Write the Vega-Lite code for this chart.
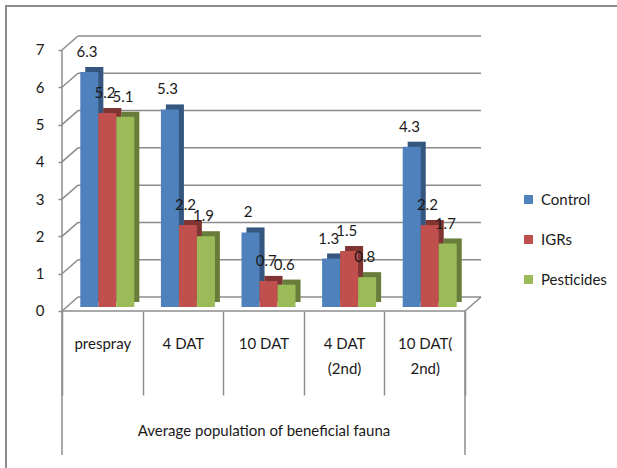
{
  "$schema": "https://vega.github.io/schema/vega-lite/v6.json",
  "width": 614,
  "height": 466,
  "autosize": {"type": "none"},
  "padding": {"left": 6, "top": 6, "right": 0, "bottom": 0},
  "background": "white",
  "config": {"view": {"stroke": "#8c8c8c", "strokeWidth": 2}, "font": "Lato"},
  "resolve": {"scale": {"xOffset": "independent"}},
  "datasets": {
    "bars": [
      {"cat": "prespray", "series": "Control", "val": 6.3},
      {"cat": "prespray", "series": "IGRs", "val": 5.2},
      {"cat": "prespray", "series": "Pesticides", "val": 5.1},
      {"cat": "4 DAT", "series": "Control", "val": 5.3},
      {"cat": "4 DAT", "series": "IGRs", "val": 2.2},
      {"cat": "4 DAT", "series": "Pesticides", "val": 1.9},
      {"cat": "10 DAT", "series": "Control", "val": 2},
      {"cat": "10 DAT", "series": "IGRs", "val": 0.7},
      {"cat": "10 DAT", "series": "Pesticides", "val": 0.6},
      {"cat": "4 DAT (2nd)", "series": "Control", "val": 1.3},
      {"cat": "4 DAT (2nd)", "series": "IGRs", "val": 1.5},
      {"cat": "4 DAT (2nd)", "series": "Pesticides", "val": 0.8},
      {"cat": "10 DAT(2nd)", "series": "Control", "val": 4.3},
      {"cat": "10 DAT(2nd)", "series": "IGRs", "val": 2.2},
      {"cat": "10 DAT(2nd)", "series": "Pesticides", "val": 1.7}
    ],
    "grid": [{"g": 0}, {"g": 1}, {"g": 2}, {"g": 3}, {"g": 4}, {"g": 5}, {"g": 6}, {"g": 7}],
    "one": [{"k": 1}]
  },
  "layer": [
    {
      "data": {"name": "grid"},
      "mark": {"type": "rule", "stroke": "#8c8c8c", "strokeWidth": 1.5, "xOffset": 16, "x2Offset": 16, "yOffset": -14, "y2Offset": -14},
      "encoding": {
        "x": {"datum": "prespray", "type": "nominal", "bandPosition": 0, "scale": {"domain": ["prespray", "4 DAT", "10 DAT", "4 DAT (2nd)", "10 DAT(2nd)"], "paddingInner": 0, "paddingOuter": 0, "range": [56, 459]}},
        "x2": {"datum": "10 DAT(2nd)", "bandPosition": 1},
        "y": {"field": "g", "type": "quantitative", "scale": {"domain": [-4.318, 8.18], "nice": false, "zero": false}}
      }
    },
    {
      "data": {"name": "grid"},
      "mark": {"type": "rule", "stroke": "#8c8c8c", "strokeWidth": 1.5, "x2Offset": 16, "y2Offset": -14},
      "encoding": {
        "x": {"datum": "prespray", "type": "nominal", "bandPosition": 0},
        "x2": {"datum": "prespray", "bandPosition": 0},
        "y": {"field": "g", "type": "quantitative"},
        "y2": {"field": "g"}
      }
    },
    {
      "data": {"name": "one"},
      "mark": {"type": "rule", "stroke": "#8c8c8c", "strokeWidth": 1.5, "x2Offset": 16, "y2Offset": -14},
      "encoding": {
        "x": {"datum": "10 DAT(2nd)", "type": "nominal", "bandPosition": 1},
        "x2": {"datum": "10 DAT(2nd)", "bandPosition": 1},
        "y": {"datum": 0, "type": "quantitative"},
        "y2": {"datum": 0}
      }
    },
    {
      "data": {"name": "one"},
      "mark": {"type": "rule", "stroke": "#8c8c8c", "strokeWidth": 1.5},
      "encoding": {
        "x": {"datum": "prespray", "type": "nominal", "bandPosition": 0},
        "x2": {"datum": "10 DAT(2nd)", "bandPosition": 1},
        "y": {"datum": 0, "type": "quantitative"}
      }
    },
    {
      "data": {"name": "one"},
      "mark": {"type": "rule", "stroke": "#8c8c8c", "strokeWidth": 1.5},
      "encoding": {
        "x": {"datum": "prespray", "type": "nominal", "bandPosition": 0},
        "y": {"datum": 7, "type": "quantitative"},
        "y2": {"datum": -3.862}
      }
    },
    {
      "data": {"name": "one"},
      "mark": {"type": "rule", "stroke": "#8c8c8c", "strokeWidth": 1.5},
      "encoding": {
        "x": {"datum": "10 DAT(2nd)", "type": "nominal", "bandPosition": 1},
        "y": {"datum": 0, "type": "quantitative"},
        "y2": {"datum": -3.862}
      }
    },
    {
      "data": {"name": "bars"},
      "mark": {"type": "bar", "yOffset": -9, "y2Offset": -9},
      "encoding": {
        "x": {"field": "cat", "type": "nominal"},
        "xOffset": {"field": "series", "type": "nominal", "scale": {"domain": ["Control", "IGRs", "Pesticides"], "paddingInner": 0, "paddingOuter": 0.739, "align": 0.876}},
        "y": {"field": "val", "type": "quantitative"},
        "y2": {"datum": 0},
        "color": {"field": "series", "type": "nominal"}
      }
    },
    {
      "data": {"name": "bars"},
      "mark": {"type": "bar", "fill": "black", "opacity": 0.33, "yOffset": -9, "y2Offset": -9},
      "encoding": {
        "x": {"field": "cat", "type": "nominal"},
        "xOffset": {"field": "series", "type": "nominal", "scale": {"domain": ["Control", "IGRs", "Pesticides"], "paddingInner": 0, "paddingOuter": 0.739, "align": 0.876}},
        "y": {"field": "val", "type": "quantitative"},
        "y2": {"datum": 0}
      }
    },
    {
      "data": {"name": "bars"},
      "mark": {"type": "bar", "yOffset": -4, "y2Offset": -4},
      "encoding": {
        "x": {
          "field": "cat", "type": "nominal", "title": "Average population of beneficial fauna",
          "axis": {
            "orient": "bottom", "offset": -161, "domain": false, "ticks": true, "tickBand": "extent",
            "tickSize": 84, "tickColor": "#8c8c8c", "tickWidth": 1.5, "grid": false,
            "labelPadding": -59, "labelBaseline": "top", "labelAlign": "center", "labelAngle": 0, "labelFont": "Lato", "labelFontSize": 15,
            "labelColor": "#1a1a1a", "labelLineHeight": 25,
            "labelExpr": "datum.value == '4 DAT (2nd)' ? ['4 DAT', '(2nd)'] : datum.value == '10 DAT(2nd)' ? ['10 DAT(', '2nd)'] : datum.label",
            "titleFont": "Lato", "titleFontSize": 15, "titleFontWeight": "normal", "titleColor": "#1a1a1a",
            "titleY": 124, "titleBaseline": "alphabetic"
          }
        },
        "xOffset": {"field": "series", "type": "nominal", "scale": {"domain": ["Control", "IGRs", "Pesticides"], "paddingInner": 0, "paddingOuter": 0.739, "align": 0.688}},
        "y": {
          "field": "val", "type": "quantitative", "title": null,
          "axis": {"offset": -56, "values": [0, 1, 2, 3, 4, 5, 6, 7], "domain": false, "ticks": true, "tickSize": 4, "tickColor": "#8c8c8c", "tickWidth": 1.5, "grid": false, "title": null,
            "labelPadding": 14, "labelFont": "Lato", "labelFontSize": 15, "labelColor": "#1a1a1a"}
        },
        "y2": {"datum": 0},
        "color": {
          "field": "series", "type": "nominal",
          "scale": {"domain": ["Control", "IGRs", "Pesticides"], "range": ["#4F81BD", "#C0504D", "#9BBB59"]},
          "legend": {"title": null, "orient": "none", "legendX": 515, "legendY": 186, "symbolType": "square", "symbolSize": 81,
            "symbolStrokeWidth": 0, "labelFont": "Lato", "labelFontSize": 15, "labelColor": "#1a1a1a", "labelOffset": 5, "rowPadding": 24, "padding": 0}
        }
      }
    },
    {
      "data": {"name": "bars"},
      "mark": {"type": "text", "yOffset": -19, "baseline": "alphabetic", "align": "center", "font": "Lato", "fontSize": 15, "color": "#1a1a1a"},
      "encoding": {
        "x": {"field": "cat", "type": "nominal"},
        "xOffset": {"field": "series", "type": "nominal", "scale": {"type": "band", "domain": ["Control", "IGRs", "Pesticides"], "paddingInner": 0, "paddingOuter": 0.739, "align": 0.6}},
        "y": {"field": "val", "type": "quantitative"},
        "text": {"field": "val", "type": "quantitative"}
      }
    }
  ]
}
